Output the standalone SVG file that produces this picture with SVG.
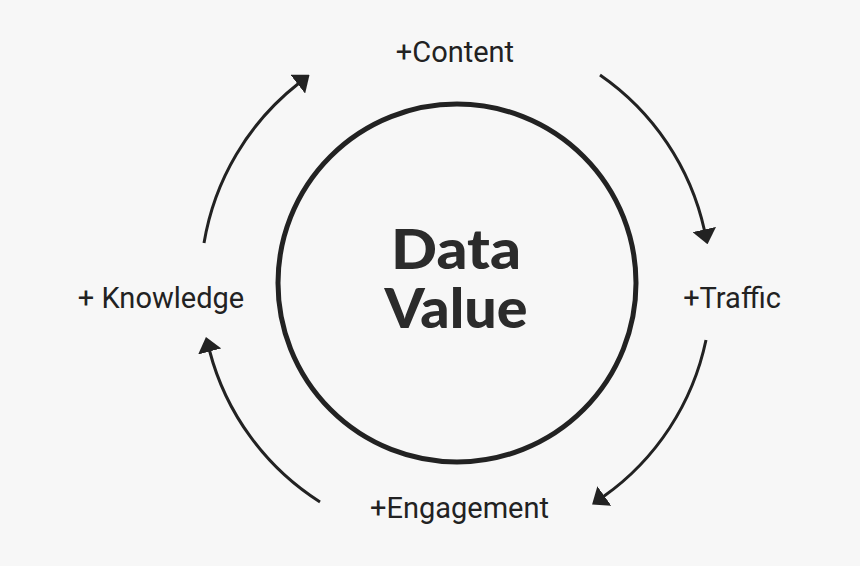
<svg xmlns="http://www.w3.org/2000/svg" width="860" height="566" viewBox="0 0 860 566">
  <style>
    .lbl { font-family: Roboto, "Liberation Sans", sans-serif; font-size: 29px; fill: #222; text-anchor: middle; }
    .title { font-family: Lato, "Liberation Sans", sans-serif; font-size: 55px; font-weight: 900; fill: #2b2b2b; text-anchor: middle; }
    .arc { fill: none; stroke: #222; stroke-width: 3; marker-end: url(#ah); }
  </style>
  <defs>
    <marker id="ah" viewBox="0 0 15 24" refX="1" refY="12" markerWidth="15" markerHeight="24" markerUnits="userSpaceOnUse" orient="auto">
      <path d="M0,0 L15,12 L0,24 z" fill="#222"/>
    </marker>
  </defs>
  <rect width="860" height="566" fill="#f7f7f7"/>
  <g id="center">
    <circle cx="457" cy="283" r="179" fill="none" stroke="#222" stroke-width="5"/>
    <text class="title"><tspan x="456" y="269" textLength="130" lengthAdjust="spacingAndGlyphs">Data</tspan><tspan x="456" y="328" textLength="143" lengthAdjust="spacingAndGlyphs">Value</tspan></text>
  </g>
  <g id="content"><text class="lbl" x="455" y="62">+Content</text></g>
  <g id="traffic"><text class="lbl" x="732" y="308">+Traffic</text></g>
  <g id="engagement"><text class="lbl" x="459.5" y="518">+Engagement</text></g>
  <g id="knowledge"><text class="lbl" x="161" y="308">+ Knowledge</text></g>
  <g id="connectors">
    <path class="arc" d="M204,243 A256,256 0 0 1 298.5,83.5"/>
    <path class="arc" d="M600,75 A256,256 0 0 1 704.5,230.5"/>
    <path class="arc" d="M706,340 A256,256 0 0 1 603.5,496.5"/>
    <path class="arc" d="M320,502 A256,256 0 0 1 209.5,350.5"/>
  </g>
</svg>
